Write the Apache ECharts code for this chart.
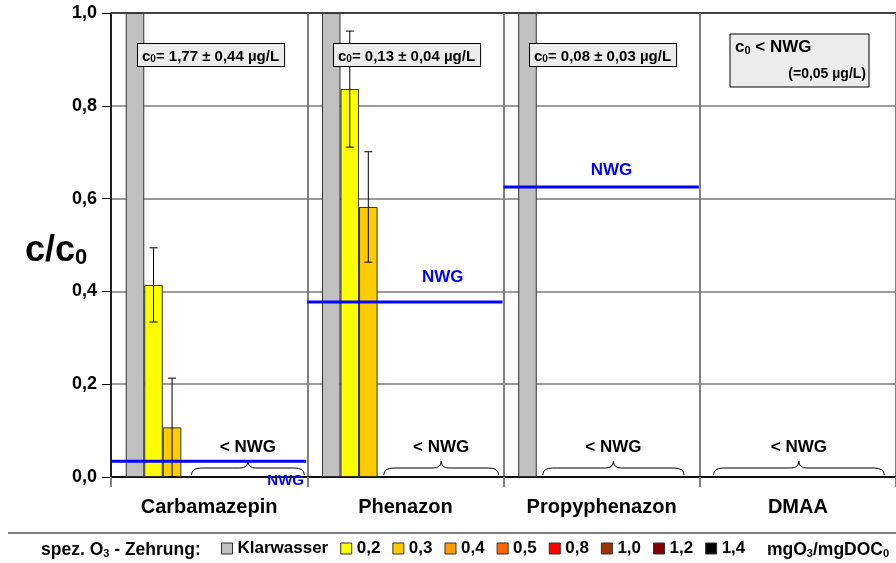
<!DOCTYPE html>
<html>
<head>
<meta charset="utf-8">
<script src="https://cdn.jsdelivr.net/npm/echarts@6/dist/echarts.min.js"></script>
<style>
  html, body { margin: 0; padding: 0; background: #fff; }
  #chart { width: 896px; height: 563px; }
</style>
</head>
<body>
<div id="chart"></div>
<script>
// Substances on the x axis
const categories = ['Carbamazepin', 'Phenazon', 'Propyphenazon', 'DMAA'];

// Specific ozone dose levels (legend order) and their colours
const levels = ['Klarwasser', '0,2', '0,3', '0,4', '0,5', '0,8', '1,0', '1,2', '1,4'];
const levelColors = ['#c0c0c0', '#ffff00', '#ffcc00', '#ff9900', '#ff6600', '#ff0000', '#993300', '#800000', '#000000'];

// c/c0 per level and substance (null = not measured / below detection)
const valKlarwasser = [1.0, 1.0, 1.0, null];
const val02 = [0.414, 0.836, null, null];
const val03 = [0.107, 0.582, null, null];
const val04 = [null, null, null, null];
const val05 = [null, null, null, null];
const val08 = [null, null, null, null];
const val10 = [null, null, null, null];
const val12 = [null, null, null, null];
const val14 = [null, null, null, null];
const levelValues = [valKlarwasser, val02, val03, val04, val05, val08, val10, val12, val14];

// Standard deviation of c/c0
const err02 = [0.080, 0.125, null, null];
const err03 = [0.106, 0.119, null, null];

// Detection limit (NWG) expressed as c/c0
const nwgValues = [0.034, 0.377, 0.625, null];

// Substances whose treated samples were all below NWG
const belowNwg = [true, true, true, true];

// Initial concentrations
const c0Texts = ['1,77 ± 0,44 µg/L', '0,13 ± 0,04 µg/L', '0,08 ± 0,03 µg/L', null];
const nwgAbs = '0,05 µg/L';

// Y tick labels
const yTicks = [0, 0.2, 0.4, 0.6, 0.8, 1.0];

const FONT = "'Liberation Sans', Arial, sans-serif";
const CAT_GAP = 0.15;

// Layout helpers for annotations (fractions of a category band)
const braceSpans = [[0.41, 0.985], [0.39, 0.975], [0.20, 0.92], [0.07, 0.94]];
const nwgLabelPlacement = [
  { fx: 0.89, dy: 20, size: 15 },
  { fx: 0.69, dy: -25, size: 17 },
  { fx: 0.55, dy: -17, size: 17 },
  null
];

const chart = echarts.init(document.getElementById('chart'), null, { renderer: 'canvas' });

const barSeries = levels.map((name, k) => ({
  name: name,
  type: 'bar',
  data: levelValues[k],
  barGap: 0,
  barCategoryGap: (CAT_GAP * 100) + '%',
  itemStyle: { color: levelColors[k], borderColor: '#333', borderWidth: 1 },
  emphasis: { disabled: true },
  z: 3
}));

// Error bar rows: [category, level index, value, sd]
const errorRows = [];
[[1, err02], [2, err03]].forEach(([k, errs]) => {
  errs.forEach((e, i) => {
    if (e != null && levelValues[k][i] != null) errorRows.push([i, k, levelValues[k][i], e]);
  });
});

const nwgRows = [];
nwgValues.forEach((v, i) => { if (v != null) nwgRows.push([i, v]); });

const braceRows = [];
belowNwg.forEach((b, i) => { if (b) braceRows.push([i, 0]); });

function barCenter(api, cat, k) {
  const c = api.coord([cat, 0])[0];
  const band = api.size([1, 0])[0];
  const groupW = band * (1 - CAT_GAP);
  const w = groupW / levels.length;
  return c - groupW / 2 + w * (k + 0.5);
}

// rich-text styles: main text plus a lowered subscript
function richPair(size, subSize) {
  const lh = Math.round(size * 1.2);
  return {
    b: { font: 'bold ' + size + 'px ' + FONT, fill: '#000', lineHeight: lh, verticalAlign: 'bottom' },
    s: { font: 'bold ' + subSize + 'px ' + FONT, fill: '#000', lineHeight: Math.max(2, Math.round(size * 0.3)), verticalAlign: 'bottom' }
  };
}

const option = {
  animation: false,
  backgroundColor: '#fff',
  grid: { left: 111, right: 0, top: 13, bottom: 86, containLabel: false },
  legend: {
    data: levels,
    left: 221,
    top: 540,
    padding: 0,
    itemWidth: 11,
    itemHeight: 11,
    itemGap: 12,
    icon: 'rect',
    selectedMode: false,
    itemStyle: { borderColor: '#333', borderWidth: 1 },
    textStyle: { fontFamily: FONT, fontWeight: 'bold', fontSize: 17, color: '#000' }
  },
  xAxis: {
    type: 'category',
    data: categories,
    axisLine: { lineStyle: { color: '#000', width: 1.5 } },
    axisTick: { show: true, length: 10, lineStyle: { color: '#808080', width: 2 } },
    splitLine: { show: true, lineStyle: { color: '#808080', width: 2 } },
    axisLabel: { fontFamily: FONT, fontWeight: 'bold', fontSize: 20, color: '#000', margin: 20 }
  },
  yAxis: {
    type: 'value',
    min: 0,
    max: 1,
    interval: 0.2,
    axisLine: { show: true, lineStyle: { color: '#000', width: 1.5 } },
    axisTick: { show: true, length: 9, lineStyle: { color: '#000' } },
    splitLine: { show: true, lineStyle: { color: ['#000', '#7a7a7a', '#7a7a7a', '#7a7a7a', '#7a7a7a', '#000'], width: 1.5 } },
    axisLabel: {
      fontFamily: FONT, fontWeight: 'bold', fontSize: 18, color: '#000', margin: 14,
      formatter: v => yTicks.some(t => Math.abs(t - v) < 1e-9) ? v.toFixed(1).replace('.', ',') : ''
    }
  },
  series: [
    ...barSeries,
    {
      name: 'sd',
      type: 'custom',
      data: errorRows,
      z: 5,
      renderItem: function (params, api) {
        const cat = api.value(0), k = api.value(1), v = api.value(2), e = api.value(3);
        const x = barCenter(api, cat, k);
        const yTop = api.coord([cat, v + e])[1];
        const yBot = api.coord([cat, Math.max(0, v - e)])[1];
        const hw = 4;
        const st = { stroke: '#000', lineWidth: 1 };
        return {
          type: 'group',
          children: [
            { type: 'line', shape: { x1: x, y1: yTop, x2: x, y2: yBot }, style: st },
            { type: 'line', shape: { x1: x - hw, y1: yTop, x2: x + hw, y2: yTop }, style: st },
            { type: 'line', shape: { x1: x - hw, y1: yBot, x2: x + hw, y2: yBot }, style: st }
          ]
        };
      }
    },
    {
      name: 'NWG',
      type: 'custom',
      data: nwgRows,
      z: 6,
      clip: false,
      renderItem: function (params, api) {
        const cat = api.value(0), v = api.value(1);
        const c = api.coord([cat, v]);
        const band = api.size([1, 0])[0];
        const place = nwgLabelPlacement[cat];
        return {
          type: 'group',
          children: [
            { type: 'line', shape: { x1: c[0] - band / 2, y1: c[1], x2: c[0] + band / 2 - 1, y2: c[1] },
              style: { stroke: '#0000ff', lineWidth: 3 } },
            { type: 'text', x: c[0] - band / 2 + band * place.fx, y: c[1] + place.dy,
              style: { text: 'NWG', fill: '#0000ff', font: 'bold ' + place.size + 'px ' + FONT, align: 'center', verticalAlign: 'middle' } }
          ]
        };
      }
    },
    {
      name: 'belowNWG',
      type: 'custom',
      data: braceRows,
      z: 4,
      renderItem: function (params, api) {
        const cat = api.value(0);
        const c = api.coord([cat, 0]);
        const band = api.size([1, 0])[0];
        const left = c[0] - band / 2;
        const x0 = left + band * braceSpans[cat][0];
        const x1 = left + band * braceSpans[cat][1];
        const xm = (x0 + x1) / 2;
        const yb = c[1] - 2, yl = c[1] - 9, yt = c[1] - 16;
        const path = `M${x0},${yb} Q${x0},${yl} ${x0 + 10},${yl} L${xm - 8},${yl} Q${xm},${yl} ${xm},${yt} ` +
                     `Q${xm},${yl} ${xm + 8},${yl} L${x1 - 10},${yl} Q${x1},${yl} ${x1},${yb}`;
        return {
          type: 'group',
          children: [
            { type: 'path', shape: { pathData: path }, style: { stroke: '#000', lineWidth: 1, fill: null } },
            { type: 'text', x: xm, y: c[1] - 30,
              style: { text: '< NWG', fill: '#000', font: 'bold 17px ' + FONT, align: 'center', verticalAlign: 'middle' } }
          ]
        };
      }
    }
  ],
  graphic: []
};

chart.setOption(option);

// Annotation boxes with initial concentrations, y axis title and legend captions
function buildGraphics() {
  const g = [];
  const boxX = [137, 333, 529];
  c0Texts.forEach((t, i) => {
    if (!t) return;
    g.push({
      type: 'text', left: boxX[i], top: 43, z: 10,
      style: {
        text: '{b|c}{s|0}{b|= ' + t + '}',
        rich: richPair(15, 10),
        backgroundColor: '#ececec', borderColor: '#000', borderWidth: 1,
        padding: [2, 5, 2, 4]
      }
    });
  });
  // DMAA: c0 below detection limit
  g.push({ type: 'rect', shape: { x: 730, y: 34, width: 139, height: 53 }, z: 10,
           style: { fill: '#ececec', stroke: '#000', lineWidth: 1 } });
  g.push({ type: 'text', left: 735, top: 39, z: 11,
           style: { text: '{b|c}{s|0}{b| < NWG}', rich: richPair(17, 11) } });
  g.push({ type: 'text', right: 30, top: 67, z: 11,
           style: { text: '(=' + nwgAbs + ')', font: 'bold 14px ' + FONT, fill: '#000' } });

  // y axis title
  g.push({ type: 'text', left: 25, top: 233,
           style: { text: '{b|c/c}{s|0}', rich: richPair(36, 22) } });

  // separator above the legend
  g.push({ type: 'line', shape: { x1: 8, y1: 533, x2: 896, y2: 533 }, style: { stroke: '#555', lineWidth: 1.5 } });

  const legRich = richPair(17.5, 11);
  g.push({ type: 'text', left: 41, top: 541, style: { text: '{b|spez. O}{s|3}{b| - Zehrung:}', rich: legRich } });
  g.push({ type: 'text', left: 767, top: 541, style: { text: '{b|mgO}{s|3}{b|/mgDOC}{s|0}', rich: legRich } });
  return g;
}

chart.setOption({ graphic: buildGraphics() });
</script>
</body>
</html>
